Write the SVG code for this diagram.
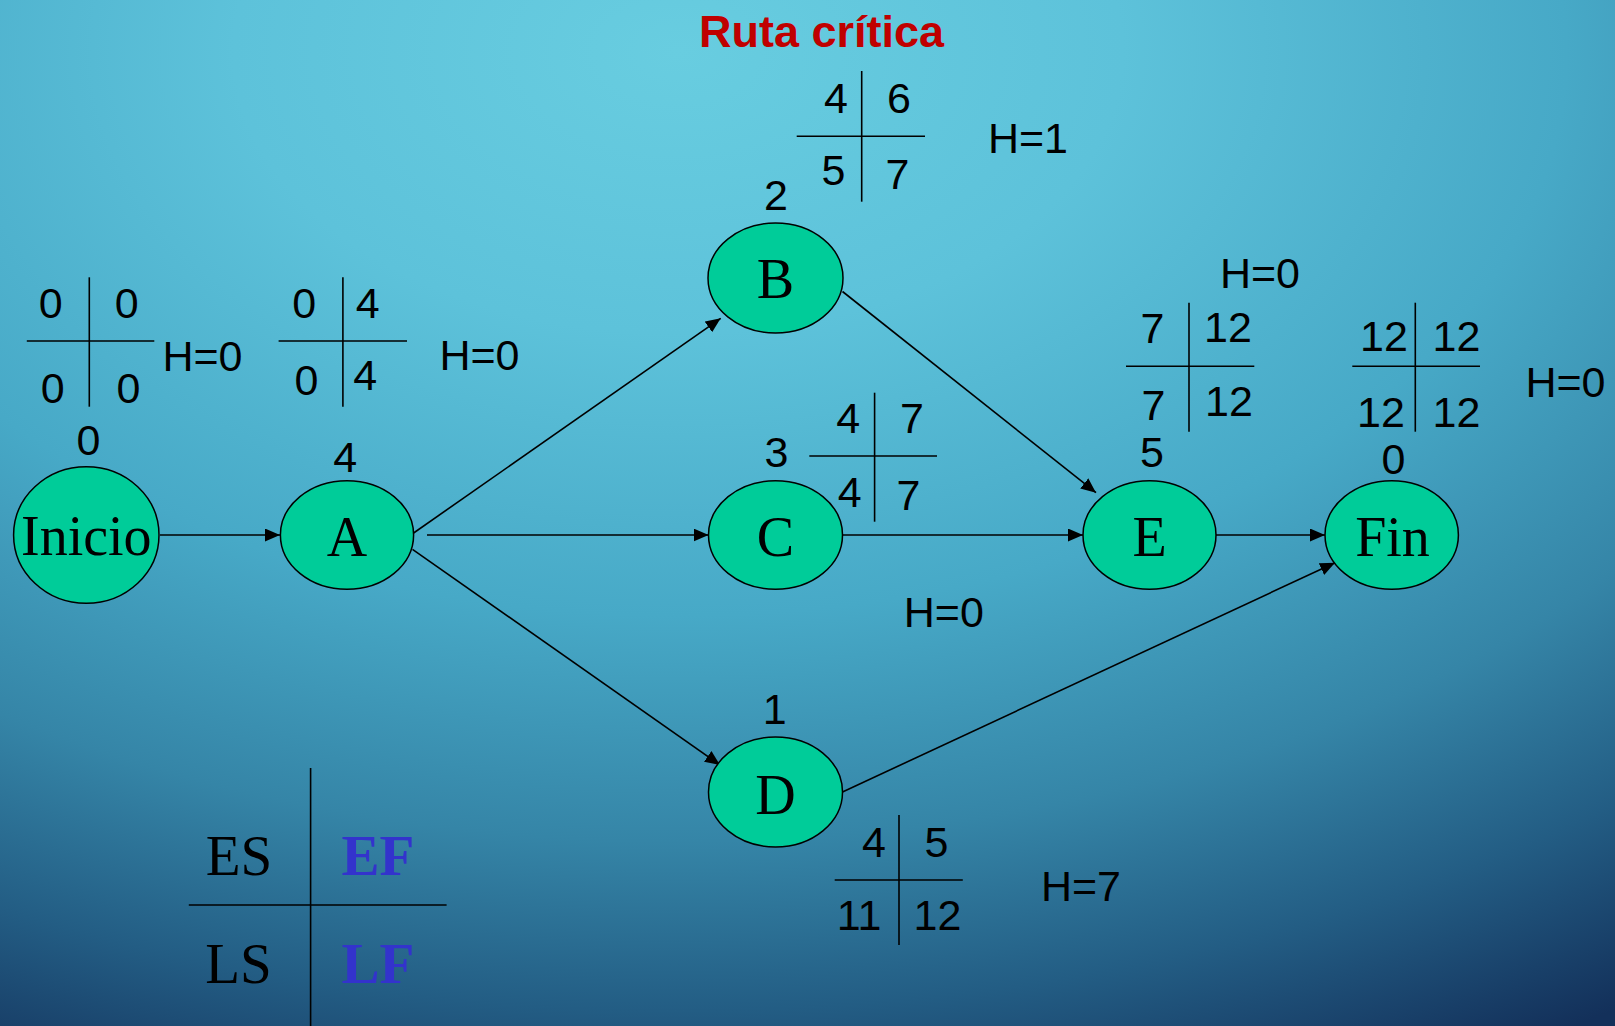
<svg xmlns="http://www.w3.org/2000/svg" width="1615" height="1026" viewBox="0 0 1615 1026">
<defs>
<radialGradient id="bg" cx="0.42" cy="0.05" r="1.1" fx="0.42" fy="0.05">
<stop offset="0" stop-color="#68CDE0"/>
<stop offset="0.25" stop-color="#5DC2DA"/>
<stop offset="0.5" stop-color="#47A9C7"/>
<stop offset="0.7" stop-color="#3585A7"/>
<stop offset="0.85" stop-color="#235D84"/>
<stop offset="1" stop-color="#13305A"/>
</radialGradient>
<marker id="arr" markerUnits="userSpaceOnUse" markerWidth="16" markerHeight="13" refX="15" refY="6.5" orient="auto">
<path d="M0,0 L15,6.5 L0,13 z" fill="#000"/>
</marker>
<style>
.node{fill:#00CC99;stroke:#000;stroke-width:1.5}
.lbl{font-family:"Liberation Serif","Times New Roman",serif;font-size:56px;fill:#000;text-anchor:middle}
.num{font-family:"Liberation Sans",Arial,sans-serif;font-size:43px;fill:#000;text-anchor:middle}
.tl{stroke:#000;stroke-width:1.6;fill:none}
.con{stroke:#000;stroke-width:1.6;fill:none;marker-end:url(#arr)}
.leg{font-family:"Liberation Serif","Times New Roman",serif;font-size:57px;fill:#000;text-anchor:middle}
.legb{font-family:"Liberation Serif","Times New Roman",serif;font-size:57px;font-weight:bold;fill:#3333CC;text-anchor:middle}
</style>
</defs>
<rect x="0" y="0" width="1615" height="1026" fill="url(#bg)"/>
<text x="699" y="47" font-family="Liberation Sans, Arial, sans-serif" font-size="45" font-weight="bold" fill="#C00000">Ruta crítica</text>

<g id="connectors">
<line class="con" x1="160" y1="535" x2="280" y2="535"/>
<line class="con" x1="413.6" y1="533" x2="720.7" y2="318.3"/>
<line class="con" x1="427" y1="535" x2="708.6" y2="535"/>
<line class="con" x1="412.5" y1="549.3" x2="720" y2="765"/>
<line class="con" x1="842.5" y1="291.5" x2="1096" y2="492.7"/>
<line class="con" x1="842.5" y1="535" x2="1083" y2="535"/>
<line class="con" x1="1216" y1="535" x2="1325" y2="535"/>
<line class="con" x1="842.5" y1="792" x2="1335" y2="562.7"/>
</g>

<g id="node-inicio">
<ellipse class="node" cx="86.3" cy="535" rx="72.7" ry="68.3"/>
<text class="lbl" x="86.3" y="555">Inicio</text>
<text class="num" x="88.5" y="455">0</text>
<line class="tl" x1="89.3" y1="277.3" x2="89.3" y2="406.7"/>
<line class="tl" x1="26.8" y1="341" x2="154.3" y2="341"/>
<text class="num" x="50.7" y="318">0</text>
<text class="num" x="126.8" y="318">0</text>
<text class="num" x="52.8" y="403">0</text>
<text class="num" x="128.5" y="403">0</text>
<text class="num" x="202.5" y="371">H=0</text>
</g>

<g id="node-a">
<ellipse class="node" cx="347" cy="535" rx="66.6" ry="54.3"/>
<text class="lbl" x="347" y="556">A</text>
<text class="num" x="345.3" y="472">4</text>
<line class="tl" x1="342.9" y1="277.3" x2="342.9" y2="406.7"/>
<line class="tl" x1="278.6" y1="341" x2="407" y2="341"/>
<text class="num" x="304.3" y="318">0</text>
<text class="num" x="367.8" y="318">4</text>
<text class="num" x="306.4" y="395">0</text>
<text class="num" x="365.3" y="390">4</text>
<text class="num" x="479.5" y="370">H=0</text>
</g>

<g id="node-b">
<ellipse class="node" cx="775.5" cy="278" rx="67.5" ry="55"/>
<text class="lbl" x="775.5" y="298">B</text>
<text class="num" x="776" y="210">2</text>
<line class="tl" x1="861.7" y1="71" x2="861.7" y2="201.7"/>
<line class="tl" x1="796.7" y1="136.3" x2="925" y2="136.3"/>
<text class="num" x="836" y="113">4</text>
<text class="num" x="899" y="113">6</text>
<text class="num" x="833.5" y="185">5</text>
<text class="num" x="897.5" y="189">7</text>
<text class="num" x="1028" y="153">H=1</text>
</g>

<g id="node-c">
<ellipse class="node" cx="775.5" cy="535" rx="67" ry="54.3"/>
<text class="lbl" x="775.5" y="556">C</text>
<text class="num" x="776.4" y="467">3</text>
<line class="tl" x1="874.6" y1="392.7" x2="874.6" y2="521.7"/>
<line class="tl" x1="809.3" y1="456" x2="937" y2="456"/>
<text class="num" x="848.3" y="433">4</text>
<text class="num" x="912" y="433">7</text>
<text class="num" x="849.8" y="507">4</text>
<text class="num" x="908.5" y="510">7</text>
<text class="num" x="943.8" y="627">H=0</text>
</g>

<g id="node-d">
<ellipse class="node" cx="775.5" cy="792" rx="67" ry="55"/>
<text class="lbl" x="775.5" y="814">D</text>
<text class="num" x="774.6" y="724">1</text>
<line class="tl" x1="899" y1="815" x2="899" y2="945"/>
<line class="tl" x1="834.7" y1="880" x2="962.8" y2="880"/>
<text class="num" x="874" y="857">4</text>
<text class="num" x="936.5" y="857">5</text>
<text class="num" x="859" y="930">11</text>
<text class="num" x="937.4" y="930">12</text>
<text class="num" x="1081" y="901">H=7</text>
</g>

<g id="node-e">
<ellipse class="node" cx="1149.5" cy="535" rx="66.5" ry="54.3"/>
<text class="lbl" x="1149.5" y="556">E</text>
<text class="num" x="1152" y="467">5</text>
<line class="tl" x1="1189" y1="302.7" x2="1189" y2="431.7"/>
<line class="tl" x1="1126" y1="366.3" x2="1254.3" y2="366.3"/>
<text class="num" x="1152.5" y="342.7">7</text>
<text class="num" x="1228" y="342">12</text>
<text class="num" x="1153.5" y="420">7</text>
<text class="num" x="1229" y="416">12</text>
<text class="num" x="1260" y="288">H=0</text>
</g>

<g id="node-fin">
<ellipse class="node" cx="1391.7" cy="535" rx="66.7" ry="54.3"/>
<text class="lbl" x="1392.5" y="556">Fin</text>
<text class="num" x="1393.4" y="474">0</text>
<line class="tl" x1="1415.3" y1="302.7" x2="1415.3" y2="431.7"/>
<line class="tl" x1="1352.3" y1="366.3" x2="1480" y2="366.3"/>
<text class="num" x="1384" y="351">12</text>
<text class="num" x="1456.5" y="351">12</text>
<text class="num" x="1381" y="427">12</text>
<text class="num" x="1456.5" y="427">12</text>
<text class="num" x="1565.5" y="397">H=0</text>
</g>

<g id="legend">
<line class="tl" x1="310.6" y1="768" x2="310.6" y2="1026"/>
<line class="tl" x1="188.8" y1="905" x2="446.6" y2="905"/>
<text class="leg" x="239" y="875">ES</text>
<text class="legb" x="378" y="875">EF</text>
<text class="leg" x="238.5" y="983">LS</text>
<text class="legb" x="378" y="983">LF</text>
</g>
</svg>
